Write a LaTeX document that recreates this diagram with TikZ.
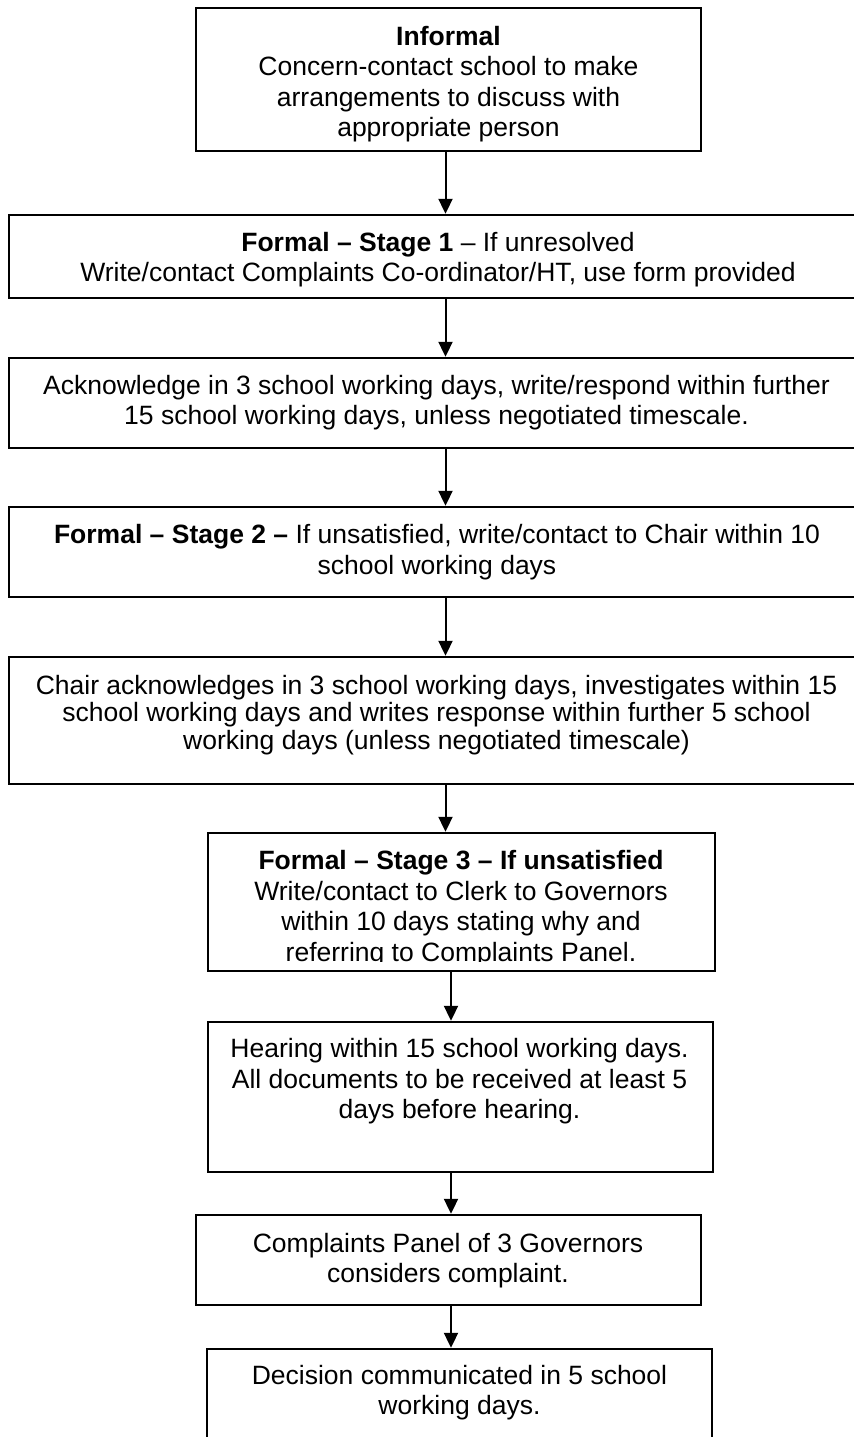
\documentclass[tikz,border=0pt]{standalone}
\usepackage{fontspec}
\setmainfont{Liberation Sans}
\usetikzlibrary{arrows.meta}
\newcommand{\boxfont}{\fontsize{13.25pt}{15.25pt}\selectfont}
\newcommand{\tightfont}{\fontsize{13.25pt}{13.75pt}\selectfont}
\begin{document}
\begin{tikzpicture}[x=0.5pt, y=-0.5pt,
  stagebox/.style={draw, line width=1.2pt, inner sep=0pt},
  stagetext/.style={align=center, inner sep=0pt, font=\boxfont},
  flow/.style={-{Triangle[width=7pt,length=7.5pt]}, line width=1pt}]
\useasboundingbox (0,0) rectangle (854,1437);
\clip (0,0) rectangle (854,1437);
\coordinate (railA) at (445.5,0);
\coordinate (railB) at (451,0);
% boxes
\node[stagebox, minimum width=252.5pt, minimum height=71.5pt] (inf) at (448.5,79.5){};
\node[stagebox, minimum width=428.5pt, minimum height=41.5pt] (st1) at (437.5,256.5){};
\node[stagebox, minimum width=428.5pt, minimum height=45pt] (ack1) at (437.5,403){};
\node[stagebox, minimum width=428.5pt, minimum height=45pt] (st2) at (437.5,552){};
\node[stagebox, minimum width=428.5pt, minimum height=63.5pt] (ack2) at (437.5,720.5){};
\node[stagebox, minimum width=253.5pt, minimum height=69pt] (st3) at (461.5,902){};
\node[stagebox, minimum width=252.5pt, minimum height=75pt] (hear) at (460.5,1097){};
\node[stagebox, minimum width=252.5pt, minimum height=45pt] (panel) at (448.5,1260){};
\node[stagebox, minimum width=252.5pt, minimum height=75.5pt] (dec) at (459.5,1424.5){};
% texts
\node[stagetext] (inftxt) at (448.5,84){\textbf{Informal}\\Concern-contact school to make\\arrangements to discuss with\\appropriate person};
\node[stagetext] (st1txt) at (438,259.5){\textbf{Formal -- Stage 1} -- If unresolved\\Write/contact Complaints Co-ordinator/HT, use form provided};
\node[stagetext] (ack1txt) at (436.5,402.5){Acknowledge in 3 school working days, write/respond within further\\15 school working days, unless negotiated timescale.};
\node[stagetext] (st2txt) at (437,552){\textbf{Formal -- Stage 2 --} If unsatisfied, write/contact to Chair within 10\\school working days};
\node[stagetext, font=\tightfont] (ack2txt) at (436.5,715){Chair acknowledges in 3 school working days, investigates within 15\\school working days and writes response within further 5 school\\working days (unless negotiated timescale)};
\begin{scope}
\clip (st3.north west) rectangle (716,961);
\node[stagetext] (st3txt) at (461,908.5){\textbf{Formal -- Stage 3 -- If unsatisfied}\\Write/contact to Clerk to Governors\\within 10 days stating why and\\referring to Complaints Panel.};
\end{scope}
\node[stagetext] (heartxt) at (459.5,1081.5){Hearing within 15 school working days.\\All documents to be received at least 5\\days before hearing.};
\node[stagetext] (paneltxt) at (448,1260.5){Complaints Panel of 3 Governors\\considers complaint.};
\node[stagetext] (dectxt) at (459.5,1392.5){Decision communicated in 5 school\\working days.};
% arrows
\draw[flow](inf.south -| railA) -- (st1.north -| railA);
\draw[flow](st1.south -| railA) -- (ack1.north -| railA);
\draw[flow](ack1.south -| railA) -- (st2.north -| railA);
\draw[flow](st2.south -| railA) -- (ack2.north -| railA);
\draw[flow](ack2.south -| railA) -- (st3.north -| railA);
\draw[flow](st3.south -| railB) -- (hear.north -| railB);
\draw[flow](hear.south -| railB) -- (panel.north -| railB);
\draw[flow](panel.south -| railB) -- (dec.north -| railB);
\end{tikzpicture}
\end{document}
